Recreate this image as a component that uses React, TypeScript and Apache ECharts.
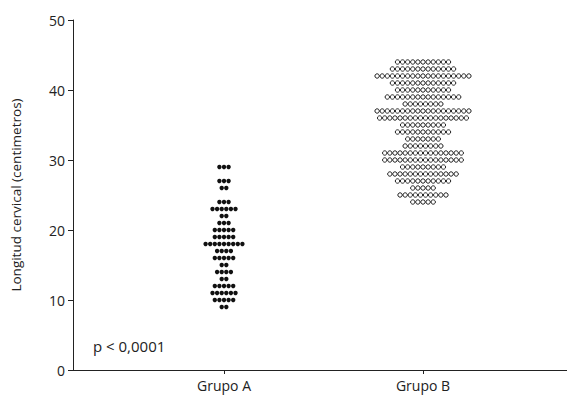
import React, { useEffect, useRef } from "react";
import * as echarts from "echarts";

const categories = ["Grupo A", "Grupo B"];
const groupAValues = [29, 27, 26, 24, 23, 22, 21, 20, 19, 18, 17, 16, 15, 14, 13, 12, 11, 10, 9];
const groupACounts = [3, 3, 2, 3, 6, 2, 3, 5, 5, 9, 4, 5, 2, 4, 2, 5, 6, 5, 2];
const groupBValues = [44, 43, 42, 41, 40, 39, 38, 37, 36, 35, 34, 33, 32, 31, 30, 29, 28, 27, 26, 25, 24];
const groupBCounts = [11, 13, 19, 13, 11, 15, 8, 19, 18, 9, 11, 7, 8, 16, 16, 9, 14, 11, 5, 10, 5];
const yTicks = [0, 10, 20, 30, 40, 50];
const pValueText = "p < 0,0001";
const yAxisTitle = "Longitud cervical (centimetros)";

const FONT = "'Open Sans', 'Noto Sans', sans-serif";
const X_MIN = 0.2412;
const X_MAX = 2.7236;
const PX_PER_UNIT = 199;

function swarm(center: number, values: number[], counts: number[], pitchPx: number) {
  const out: number[][] = [];
  const step = pitchPx / PX_PER_UNIT;
  values.forEach((v, r) => {
    const n = counts[r];
    for (let i = 0; i < n; i++) {
      out.push([center + (i - (n - 1) / 2) * step, v]);
    }
  });
  return out;
}

export default function App() {
  const ref = useRef<HTMLDivElement>(null);
  useEffect(() => {
    if (!ref.current) return;
    document.documentElement.style.overflow = "hidden";
    document.body.style.margin = "0";
    document.body.style.overflow = "hidden";
    const chart = echarts.init(ref.current, null, { renderer: "svg", width: 567, height: 399 });
    const dataA = swarm(1, groupAValues, groupACounts, 4.6);
    const dataB = swarm(2, groupBValues, groupBCounts, 5.1);
    chart.setOption({
      animation: false,
      backgroundColor: "#ffffff",
      grid: { left: 73, right: 0, top: 20, bottom: 29, containLabel: false },
      xAxis: {
        type: "value",
        min: X_MIN,
        max: X_MAX,
        splitLine: { show: false },
        axisLine: { show: true, onZero: false, lineStyle: { color: "#222", width: 1 } },
        axisTick: { show: true, length: 4, customValues: [1, 2], lineStyle: { color: "#222" } },
        axisLabel: {
          customValues: [1, 2],
          formatter: (v: number) => categories[Math.round(v) - 1] ?? "",
          color: "#222",
          fontFamily: FONT,
          fontSize: 14,
          margin: 8,
        },
      },
      yAxis: {
        type: "value",
        min: yTicks[0],
        max: yTicks[yTicks.length - 1],
        interval: 10,
        name: yAxisTitle,
        nameLocation: "middle",
        nameGap: 50,
        nameTextStyle: { color: "#222", fontFamily: FONT, fontSize: 13.5 },
        splitLine: { show: false },
        axisLine: { show: true, lineStyle: { color: "#222", width: 1 } },
        axisTick: { show: true, length: 5, lineStyle: { color: "#222" } },
        axisLabel: { color: "#222", fontFamily: FONT, fontSize: 14, margin: 8 },
      },
      graphic: [
        {
          type: "text",
          left: 93,
          top: 338,
          style: { text: pValueText, fill: "#222", font: `15px ${FONT}` },
        },
      ],
      series: [
        {
          type: "scatter",
          name: categories[0],
          data: dataA,
          symbol: "circle",
          symbolSize: 4.4,
          itemStyle: { color: "#111", opacity: 1 },
        },
        {
          type: "scatter",
          name: categories[1],
          data: dataB,
          symbol: "circle",
          symbolSize: 4.4,
          itemStyle: { color: "#ffffff", borderColor: "#222", borderWidth: 1, opacity: 1 },
        },
      ],
    });
    return () => chart.dispose();
  }, []);
  return (
    <div
      ref={ref}
      style={{ position: "absolute", left: 0, top: 0, width: 567, height: 399 }}
    />
  );
}
